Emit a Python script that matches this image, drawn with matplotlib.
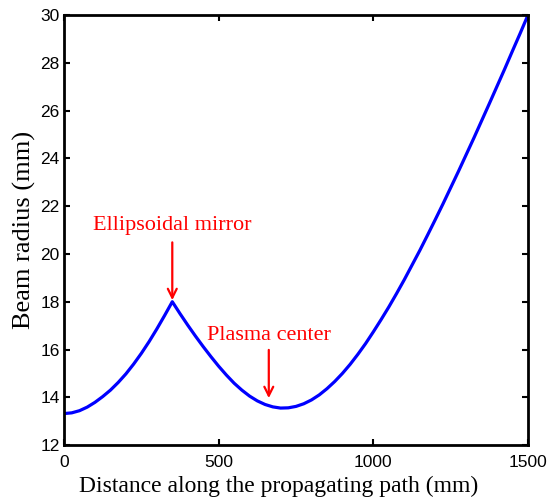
import matplotlib
matplotlib.use("Agg")
import matplotlib.pyplot as plt

# beam radius (mm), every 25 mm
dist = list(range(0, 1525, 25))
radius = [13.32, 13.35, 13.44, 13.59, 13.79, 14.03, 14.30, 14.62, 14.98, 15.39,
          15.84, 16.33, 16.86, 17.42, 18.0,                        # 0 .. 350
          17.50, 17.02, 16.56, 16.12, 15.70, 15.30, 14.93, 14.59, 14.30, 14.05,
          13.85, 13.70, 13.60, 13.55,                              # 375 .. 700
          13.56, 13.62, 13.73, 13.89, 14.10, 14.36, 14.66, 15.00, 15.38, 15.80,
          16.25, 16.74, 17.25, 17.78, 18.34, 18.92, 19.53, 20.14, 20.78, 21.43,
          22.09, 22.77, 23.45, 24.15, 24.85, 25.57, 26.29, 27.02, 27.75, 28.50,
          29.24, 30.0]                                             # 725 .. 1500

xticks = [0, 500, 1000, 1500]
yticks = [12, 14, 16, 18, 20, 22, 24, 26, 28, 30]

serif = ["Liberation Serif", "DejaVu Serif"]
sans = ["Liberation Sans", "DejaVu Sans"]

fig = plt.figure(figsize=(5.52, 4.99), dpi=100)
ax = fig.add_axes([0.116, 0.108, 0.8405, 0.862])

ax.plot(dist, radius, color="#0000ff", lw=2.3)

ax.set_xlim(0, 1500)
ax.set_ylim(12, 30)
ax.set_xticks(xticks)
ax.set_yticks(yticks)
ax.tick_params(direction="in", top=True, right=True, length=4, width=1.5, labelsize=12.5)
ax.tick_params(axis="x", pad=7)
ax.tick_params(axis="y", pad=3)
for lab in ax.get_xticklabels() + ax.get_yticklabels():
    lab.set_family(sans)
for s in ax.spines.values():
    s.set_linewidth(2)

ax.set_xlabel("Distance along the propagating path (mm)", family=serif, fontsize=17)
ax.xaxis.set_label_coords(0.462, -0.072)
ax.set_ylabel("Beam radius (mm)", family=serif, fontsize=19, labelpad=3)

# annotations
ax.annotate("", xy=(350, 17.95), xytext=(350, 20.6),
            arrowprops=dict(arrowstyle="->", color="red", lw=1.6, mutation_scale=16))
ax.text(350, 21.2, "Ellipsoidal mirror", color="red", family=serif, fontsize=16,
        ha="center", va="center")
ax.annotate("", xy=(662, 13.85), xytext=(662, 16.1),
            arrowprops=dict(arrowstyle="->", color="red", lw=1.6, mutation_scale=16))
ax.text(662, 16.6, "Plasma center", color="red", family=serif, fontsize=16,
        ha="center", va="center")

fig.savefig("out.png", dpi=100)
